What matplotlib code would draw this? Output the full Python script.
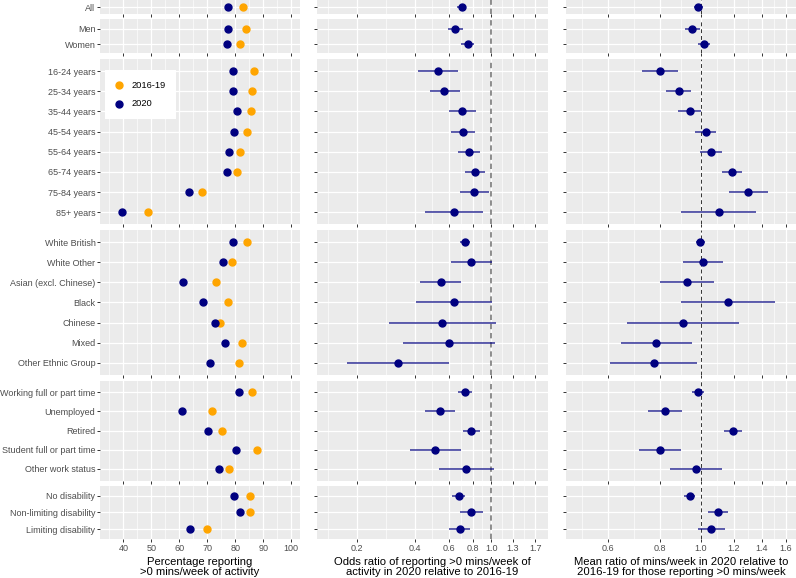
import matplotlib
matplotlib.use("Agg")
import matplotlib.pyplot as plt
import numpy as np

# row labels, one list per panel row
group_all = ["All"]
group_sex = ["Men", "Women"]
group_age = ["16-24 years", "25-34 years", "35-44 years", "45-54 years",
             "55-64 years", "65-74 years", "75-84 years", "85+ years"]
group_eth = ["White British", "White Other", "Asian (excl. Chinese)", "Black",
             "Chinese", "Mixed", "Other Ethnic Group"]
group_work = ["Working full or part time", "Unemployed", "Retired",
              "Student full or part time", "Other work status"]
group_dis = ["No disability", "Non-limiting disability", "Limiting disability"]
groups = [group_all, group_sex, group_age, group_eth, group_work, group_dis]

# percentage reporting >0 mins/week
pct_2016 = [82.6, 83.7, 81.5, 86.8, 85.8, 85.6, 84.3, 81.8, 80.5, 68.1, 48.9,
            84.0, 78.9, 73.0, 77.3, 74.5, 82.5, 81.4,
            86.0, 71.5, 75.1, 87.9, 77.9, 85.1, 85.4, 70.0]
pct_2020 = [77.3, 77.4, 77.0, 79.2, 79.3, 80.7, 79.6, 77.7, 76.9, 63.6, 39.6,
            79.2, 75.5, 61.4, 68.6, 72.7, 76.4, 71.0,
            81.4, 60.8, 70.2, 80.4, 74.3, 79.5, 81.7, 63.7]

# odds ratios with confidence limits
or_est = [0.701, 0.649, 0.753, 0.525, 0.569, 0.707, 0.709, 0.765, 0.826, 0.816, 0.637,
          0.727, 0.781, 0.545, 0.637, 0.556, 0.602, 0.325,
          0.727, 0.540, 0.784, 0.509, 0.738, 0.676, 0.784, 0.684]
or_lo = [0.663, 0.595, 0.698, 0.416, 0.479, 0.602, 0.614, 0.671, 0.732, 0.690, 0.451,
         0.684, 0.617, 0.426, 0.403, 0.293, 0.348, 0.177,
         0.671, 0.451, 0.712, 0.377, 0.532, 0.627, 0.684, 0.604]
or_hi = [0.738, 0.715, 0.810, 0.668, 0.684, 0.829, 0.826, 0.874, 0.931, 0.970, 0.902,
         0.775, 1.005, 0.695, 1.005, 1.059, 1.051, 0.600,
         0.797, 0.644, 0.870, 0.695, 1.030, 0.732, 0.902, 0.775]

# mean ratios with confidence limits
mr_est = [0.987, 0.955, 1.017, 0.800, 0.885, 0.941, 1.028, 1.059, 1.187, 1.302, 1.105,
          0.998, 1.013, 0.927, 1.161, 0.907, 0.782, 0.771,
          0.985, 0.820, 1.194, 0.799, 0.973, 0.941, 1.099, 1.061]
mr_lo = [0.962, 0.919, 0.985, 0.724, 0.827, 0.884, 0.969, 0.996, 1.125, 1.170, 0.899,
         0.973, 0.909, 0.800, 0.897, 0.664, 0.644, 0.606,
         0.953, 0.746, 1.138, 0.711, 0.842, 0.910, 1.041, 0.987]
mr_hi = [1.013, 0.998, 1.055, 0.882, 0.948, 1.000, 1.091, 1.127, 1.257, 1.451, 1.358,
         1.024, 1.131, 1.079, 1.509, 1.239, 0.951, 0.982,
         1.020, 0.900, 1.259, 0.895, 1.125, 0.971, 1.165, 1.142]

pct_ticks = [40, 50, 60, 70, 80, 90, 100]
or_ticks = [0.2, 0.4, 0.6, 0.8, 1.0, 1.3, 1.7]
or_labels = ["0.2", "0.4", "0.6", "0.8", "1.0", "1.3", "1.7"]
mr_ticks = [0.6, 0.8, 1.0, 1.2, 1.4, 1.6]
mr_labels = ["0.6", "0.8", "1.0", "1.2", "1.4", "1.6"]

plt.rcParams["font.family"] = ["Liberation Sans", "DejaVu Sans"]

W, H = 796, 578
ORANGE = "#FFA500"
NAVY = "#000080"
TICK_COLOR = "#4D4D4D"

col_x = [(100, 300), (316.7, 548.3), (565.7, 796)]
row_y = [(0, 14.3), (19.3, 53.3), (59, 224.3), (230, 375), (380.5, 480.5), (485.5, 539.3)]


def log_minor(ticks):
    # ggplot style minor breaks: midpoints in log space, one extra below
    t = np.log(ticks)
    t = np.concatenate([[t[0] - (t[1] - t[0])], t])
    return list(np.exp((t[:-1] + t[1:]) / 2))


fig = plt.figure(figsize=(W / 100, H / 100), dpi=100)

starts = np.cumsum([0] + [len(g) for g in groups])
bottom = len(groups) - 1

for c in range(3):
    x0, x1 = col_x[c]
    for gi, labels in enumerate(groups):
        y0, y1 = row_y[gi]
        ax = fig.add_axes([x0 / W, 1 - y1 / H, (x1 - x0) / W, (y1 - y0) / H])
        ax.set_facecolor("#EBEBEB")
        for s in ax.spines.values():
            s.set_visible(False)
        n = len(labels)
        sl = slice(starts[gi], starts[gi + 1])
        ypos = np.arange(n)

        if c == 0:
            ax.scatter(pct_2016[sl], ypos, s=25, color=ORANGE, label="2016-19", zorder=3)
            ax.scatter(pct_2020[sl], ypos, s=25, color=NAVY, label="2020", zorder=4)
            ax.set_xlim(31.67, 103.1)
            ax.set_xticks(pct_ticks)
            ax.set_xticks(np.arange(35, 100, 10), minor=True)
            ax.set_xticklabels([str(t) for t in pct_ticks])
        else:
            est, lo, hi = (or_est, or_lo, or_hi) if c == 1 else (mr_est, mr_lo, mr_hi)
            ax.set_xscale("log")
            ax.hlines(ypos, lo[sl], hi[sl], color=NAVY, lw=1.1, alpha=0.8, zorder=3)
            ax.scatter(est[sl], ypos, s=25, color=NAVY, zorder=4)
            if c == 1:
                ax.axvline(1.0, color="#707070", lw=1.1, dashes=(3.5, 2.5), zorder=2)
                ax.set_xlim(0.1228, 1.986)
                ax.set_xticks(or_ticks)
                ax.set_xticklabels(or_labels)
                ax.set_xticks(log_minor(or_ticks), minor=True)
            else:
                ax.axvline(1.0, color="#333333", lw=0.7, dashes=(4, 3), zorder=2)
                ax.set_xlim(0.474, 1.694)
                ax.set_xticks(mr_ticks)
                ax.set_xticklabels(mr_labels)
                ax.set_xticks(log_minor(mr_ticks), minor=True)
            ax.xaxis.set_minor_formatter(matplotlib.ticker.NullFormatter())

        ax.set_ylim(n - 0.4, -0.6)
        ax.set_yticks(ypos)
        if c == 0:
            ax.set_yticklabels(labels)
        else:
            ax.set_yticklabels([])
        ax.grid(which="major", color="white", lw=0.9)
        ax.grid(which="minor", axis="x", color="white", lw=0.45)
        ax.set_axisbelow(True)
        ax.tick_params(which="major", length=2.3, width=0.7, color="#333333",
                       labelsize=6.5, labelcolor=TICK_COLOR, pad=1)
        ax.tick_params(which="minor", length=0)
        if gi != bottom:
            ax.tick_params(axis="x", labelbottom=False)

        if c == 0 and gi == 2:
            ax.legend(loc="upper left", bbox_to_anchor=(0.025, 0.935), fontsize=6.7,
                      frameon=True, facecolor="white", edgecolor="none", framealpha=1,
                      borderpad=1.2, labelspacing=1.0, handletextpad=1.0,
                      handlelength=0.6, borderaxespad=0, fancybox=False)

        if gi == bottom:
            titles = ["Percentage reporting\n>0 mins/week of activity",
                      "Odds ratio of reporting >0 mins/week of\nactivity in 2020 relative to 2016-19",
                      "Mean ratio of mins/week in 2020 relative to\n2016-19 for those reporting >0 mins/week"]
            ax.set_xlabel(titles[c], fontsize=8.1, linespacing=1.05, labelpad=3)

fig.savefig("out.png", dpi=100)
